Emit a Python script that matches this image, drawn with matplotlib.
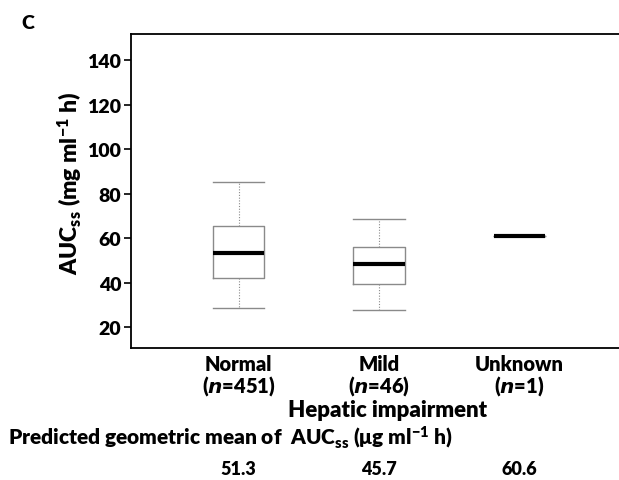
import matplotlib
matplotlib.use("Agg")
import matplotlib.pyplot as plt

plt.rcParams['font.family'] = ['Lato', 'DejaVu Sans']
plt.rcParams['font.weight'] = 'heavy'
plt.rcParams['mathtext.default'] = 'regular'

categories = ["Normal", "Mild", "Unknown"]
n_counts = [451, 46, 1]
whislo = [28.5, 27.6, 60.9]
q1 = [42.0, 39.6, 60.9]
med = [53.5, 48.4, 60.9]
q3 = [65.3, 56.2, 60.9]
whishi = [85.4, 68.6, 60.9]
geo_means = ["51.3", "45.7", "60.6"]
yticks = [20, 40, 60, 80, 100, 120, 140]

W = 'heavy'
fig = plt.figure(figsize=(6.19, 4.81), dpi=100)
ax = fig.add_axes([131/619, 1-349/481, 1-131/619, (349-34.7)/481])

stats = []
for i in range(len(categories)):
    stats.append(dict(whislo=whislo[i], q1=q1[i], med=med[i], q3=q3[i],
                      whishi=whishi[i], fliers=[], label=categories[i]))

gray = '#8a8a8a'
ax.bxp(stats, positions=[1, 2, 3], widths=0.365, showfliers=False,
       boxprops=dict(color=gray, linewidth=1.0),
       whiskerprops=dict(color=gray, linewidth=0.8, linestyle=(0, (1, 1.5))),
       capprops=dict(color=gray, linewidth=1.0),
       medianprops=dict(color='black', linewidth=3.0),
       capwidths=0.365)

ax.set_xlim(0.234, 3.71)
ax.set_ylim(10.7, 151.8)
ax.set_yticks(yticks)
ax.set_yticklabels([str(t) for t in yticks], fontsize=14, fontweight=W)
ax.tick_params(axis='y', length=5, width=1.2, pad=2)
ax.set_xticks([])
ax.spines['right'].set_visible(False)
for s in ['top', 'left', 'bottom']:
    ax.spines[s].set_linewidth(1.3)

ax.set_ylabel(r"AUC$_{ss}$ (mg ml$^{−1}$ h)", fontsize=16.5, fontweight=W)
ax.yaxis.set_label_coords(-(131 - 84) / (619 - 131), (349 - 183) / (349 - 34.7))

trans = ax.get_xaxis_transform()
for i, (c, n) in enumerate(zip(categories, n_counts)):
    ax.text(i + 1, -0.02, c, transform=trans, ha='center', va='top',
            fontsize=14.5, fontweight=W)
    ax.text(i + 1, -0.079, r"($\mathit{n}$=%d)" % n, transform=trans, ha='center', va='top',
            fontsize=14.5, fontweight=W)
    fig.text((131 + (i + 1 - 0.234) * (619 - 131) / (3.71 - 0.234)) / 619, 1 - 470/481,
             geo_means[i], ha='center', va='center', fontsize=13, fontweight=W)

fig.text(388/619, 1 - 411/481, "Hepatic impairment", ha='center', va='center',
         fontsize=16, fontweight=W)
fig.text(8/619, 1 - 438/481, r"Predicted geometric mean of  AUC$_{ss}$ (μg ml$^{−1}$ h)",
         ha='left', va='center', fontsize=15, fontweight=W)
fig.text(27.5/619, 1 - 23.5/481, "C", ha='center', va='center', fontsize=14, fontweight=W)

fig.savefig("out.png", dpi=100)
